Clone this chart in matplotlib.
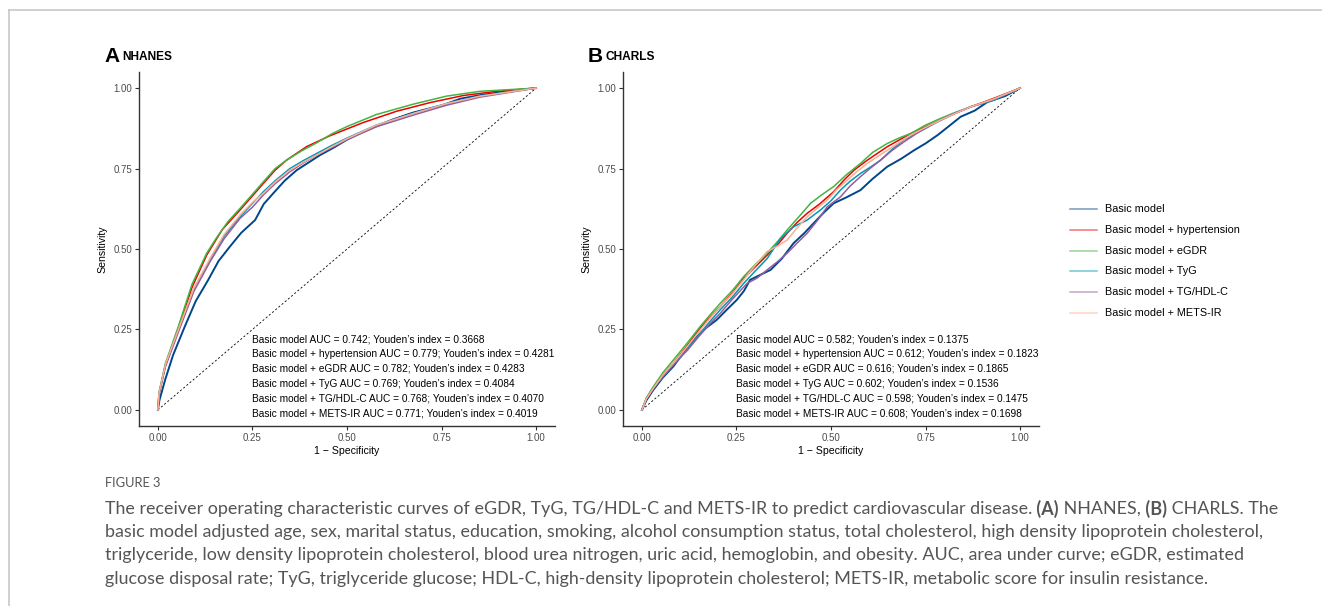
import matplotlib
matplotlib.use("Agg")
import matplotlib.pyplot as plt
from matplotlib.lines import Line2D
from matplotlib.transforms import IdentityTransform

# ---------------- data ----------------
models = ["Basic model", "Basic model + hypertension", "Basic model + eGDR",
          "Basic model + TyG", "Basic model + TG/HDL-C", "Basic model + METS-IR"]
colors = ["#00468B", "#ED0000", "#42B540", "#0099B4", "#925E9F", "#FDAF91"]

# Panel A (NHANES) ROC curves: 1 - specificity (x) and sensitivity (y)
nh_basic_x = [0, 0.004, 0.019, 0.040, 0.071, 0.100, 0.133, 0.160, 0.190, 0.220, 0.257, 0.280, 0.305, 0.335, 0.367, 0.400, 0.429, 0.465, 0.499, 0.535, 0.570, 0.620, 0.675, 0.755, 0.800, 0.852, 0.920, 1.0]
nh_basic_y = [0, 0.030, 0.093, 0.170, 0.259, 0.338, 0.404, 0.462, 0.507, 0.550, 0.590, 0.640, 0.673, 0.712, 0.745, 0.770, 0.792, 0.815, 0.839, 0.860, 0.878, 0.902, 0.924, 0.948, 0.967, 0.978, 0.990, 1.0]
nh_htn_x = [0, 0.003, 0.020, 0.054, 0.090, 0.129, 0.170, 0.217, 0.250, 0.279, 0.310, 0.340, 0.393, 0.455, 0.500, 0.543, 0.631, 0.720, 0.808, 0.896, 1.0]
nh_htn_y = [0, 0.050, 0.140, 0.254, 0.380, 0.481, 0.560, 0.621, 0.665, 0.704, 0.745, 0.776, 0.818, 0.852, 0.873, 0.893, 0.928, 0.955, 0.977, 0.990, 1.0]
nh_egdr_x = [0, 0.003, 0.020, 0.054, 0.090, 0.129, 0.155, 0.185, 0.217, 0.250, 0.279, 0.310, 0.340, 0.380, 0.420, 0.460, 0.499, 0.578, 0.675, 0.763, 0.852, 1.0]
nh_egdr_y = [0, 0.055, 0.145, 0.259, 0.390, 0.487, 0.535, 0.585, 0.626, 0.670, 0.709, 0.750, 0.776, 0.805, 0.830, 0.858, 0.880, 0.918, 0.950, 0.975, 0.990, 1.0]
nh_tyg_x = [0, 0.003, 0.020, 0.058, 0.095, 0.138, 0.175, 0.217, 0.250, 0.279, 0.310, 0.349, 0.385, 0.420, 0.460, 0.499, 0.578, 0.675, 0.764, 0.852, 1.0]
nh_tyg_y = [0, 0.050, 0.140, 0.259, 0.375, 0.466, 0.540, 0.600, 0.642, 0.678, 0.712, 0.750, 0.775, 0.797, 0.822, 0.844, 0.885, 0.921, 0.952, 0.975, 1.0]
nh_tghdl_x = [0, 0.003, 0.020, 0.058, 0.095, 0.138, 0.175, 0.217, 0.250, 0.279, 0.310, 0.349, 0.385, 0.420, 0.460, 0.499, 0.578, 0.675, 0.764, 0.852, 1.0]
nh_tghdl_y = [0, 0.050, 0.135, 0.254, 0.368, 0.461, 0.532, 0.595, 0.630, 0.668, 0.703, 0.740, 0.768, 0.792, 0.815, 0.839, 0.880, 0.916, 0.947, 0.972, 1.0]
nh_mets_x = [0, 0.003, 0.020, 0.058, 0.095, 0.138, 0.175, 0.217, 0.250, 0.279, 0.310, 0.349, 0.385, 0.420, 0.460, 0.499, 0.578, 0.675, 0.764, 0.852, 1.0]
nh_mets_y = [0, 0.052, 0.142, 0.262, 0.378, 0.471, 0.545, 0.605, 0.645, 0.673, 0.708, 0.745, 0.770, 0.792, 0.818, 0.842, 0.885, 0.921, 0.952, 0.975, 1.0]

# Panel B (CHARLS) ROC curves
ch_basic_x = [0, 0.012, 0.030, 0.055, 0.083, 0.115, 0.145, 0.170, 0.198, 0.225, 0.251, 0.270, 0.286, 0.310, 0.340, 0.370, 0.401, 0.430, 0.454, 0.480, 0.507, 0.540, 0.578, 0.610, 0.649, 0.685, 0.720, 0.750, 0.782, 0.810, 0.843, 0.880, 0.914, 0.960, 1.0]
ch_basic_y = [0, 0.030, 0.062, 0.100, 0.135, 0.185, 0.228, 0.255, 0.280, 0.312, 0.342, 0.370, 0.404, 0.418, 0.435, 0.470, 0.518, 0.550, 0.580, 0.612, 0.642, 0.660, 0.683, 0.718, 0.756, 0.780, 0.807, 0.828, 0.854, 0.880, 0.911, 0.930, 0.957, 0.975, 1.0]
ch_htn_x = [0, 0.012, 0.030, 0.055, 0.083, 0.120, 0.154, 0.180, 0.207, 0.240, 0.269, 0.300, 0.331, 0.360, 0.384, 0.410, 0.437, 0.470, 0.507, 0.535, 0.561, 0.596, 0.649, 0.711, 0.750, 0.790, 0.830, 0.870, 0.930, 1.0]
ch_htn_y = [0, 0.035, 0.067, 0.108, 0.145, 0.200, 0.254, 0.288, 0.321, 0.365, 0.409, 0.445, 0.481, 0.515, 0.549, 0.582, 0.611, 0.640, 0.678, 0.715, 0.745, 0.776, 0.818, 0.859, 0.880, 0.901, 0.922, 0.942, 0.968, 1.0]
ch_egdr_x = [0, 0.012, 0.030, 0.055, 0.083, 0.120, 0.154, 0.180, 0.207, 0.240, 0.269, 0.300, 0.331, 0.360, 0.384, 0.415, 0.446, 0.475, 0.507, 0.540, 0.578, 0.610, 0.649, 0.680, 0.711, 0.750, 0.790, 0.830, 0.870, 0.930, 1.0]
ch_egdr_y = [0, 0.038, 0.072, 0.115, 0.155, 0.208, 0.259, 0.295, 0.331, 0.372, 0.414, 0.452, 0.487, 0.525, 0.559, 0.600, 0.642, 0.668, 0.694, 0.730, 0.766, 0.800, 0.828, 0.845, 0.859, 0.885, 0.906, 0.925, 0.942, 0.965, 1.0]
ch_tyg_x = [0, 0.012, 0.030, 0.055, 0.083, 0.120, 0.154, 0.180, 0.207, 0.240, 0.269, 0.300, 0.331, 0.365, 0.401, 0.437, 0.472, 0.500, 0.525, 0.550, 0.578, 0.605, 0.631, 0.660, 0.693, 0.730, 0.773, 0.820, 0.870, 0.930, 1.0]
ch_tyg_y = [0, 0.035, 0.067, 0.103, 0.140, 0.190, 0.238, 0.275, 0.311, 0.352, 0.393, 0.432, 0.470, 0.530, 0.569, 0.590, 0.621, 0.650, 0.683, 0.710, 0.735, 0.755, 0.776, 0.808, 0.839, 0.862, 0.890, 0.918, 0.942, 0.962, 1.0]
ch_tghdl_x = [0, 0.012, 0.030, 0.055, 0.083, 0.120, 0.154, 0.180, 0.207, 0.240, 0.278, 0.305, 0.331, 0.360, 0.384, 0.410, 0.437, 0.465, 0.490, 0.525, 0.550, 0.578, 0.605, 0.631, 0.660, 0.693, 0.730, 0.773, 0.820, 0.870, 0.930, 1.0]
ch_tghdl_y = [0, 0.035, 0.067, 0.103, 0.140, 0.185, 0.233, 0.268, 0.300, 0.345, 0.393, 0.410, 0.435, 0.462, 0.487, 0.518, 0.549, 0.590, 0.631, 0.662, 0.695, 0.725, 0.752, 0.776, 0.805, 0.833, 0.862, 0.890, 0.918, 0.942, 0.965, 1.0]
ch_mets_x = [0, 0.012, 0.030, 0.055, 0.083, 0.120, 0.154, 0.180, 0.207, 0.240, 0.269, 0.300, 0.331, 0.360, 0.384, 0.410, 0.437, 0.465, 0.490, 0.515, 0.543, 0.570, 0.596, 0.649, 0.711, 0.750, 0.790, 0.830, 0.870, 0.930, 1.0]
ch_mets_y = [0, 0.035, 0.067, 0.108, 0.145, 0.197, 0.248, 0.285, 0.321, 0.362, 0.404, 0.450, 0.492, 0.510, 0.528, 0.565, 0.600, 0.628, 0.652, 0.685, 0.714, 0.742, 0.766, 0.807, 0.854, 0.878, 0.901, 0.922, 0.942, 0.966, 1.0]

nh_auc = ["0.742", "0.779", "0.782", "0.769", "0.768", "0.771"]
nh_youden = ["0.3668", "0.4281", "0.4283", "0.4084", "0.4070", "0.4019"]
ch_auc = ["0.582", "0.612", "0.616", "0.602", "0.598", "0.608"]
ch_youden = ["0.1375", "0.1823", "0.1865", "0.1536", "0.1475", "0.1698"]

ticks = [0.00, 0.25, 0.50, 0.75, 1.00]
tick_labels = ["0.00", "0.25", "0.50", "0.75", "1.00"]

caption_title = "FIGURE 3"
caption_lines = [
    [("The receiver operating characteristic curves of eGDR, TyG, TG/HDL-C and METS-IR to predict cardiovascular disease.", False),
     (" (A)", True), (" NHANES,", False), (" (B)", True), (" CHARLS. The", False)],
    [("basic model adjusted age, sex, marital status, education, smoking, alcohol consumption status, total cholesterol, high density lipoprotein cholesterol,", False)],
    [("triglyceride, low density lipoprotein cholesterol, blood urea nitrogen, uric acid, hemoglobin, and obesity. AUC, area under curve; eGDR, estimated", False)],
    [("glucose disposal rate; TyG, triglyceride glucose; HDL-C, high-density lipoprotein cholesterol; METS-IR, metabolic score for insulin resistance.", False)],
]

# ---------------- figure ----------------
W, H = 1322, 606
fig = plt.figure(figsize=(W / 100, H / 100), dpi=100)
fig.patch.set_facecolor("white")
PF = "Liberation Sans"

# light frame
fig.add_artist(Line2D([9 / W, 1.0], [1 - 10 / H, 1 - 10 / H], color="#c8c8c8", lw=1.2))
fig.add_artist(Line2D([9 / W, 9 / W], [0, 1 - 10 / H], color="#c8c8c8", lw=1.2))


def make_panel(left_px, data, aucs, youdens, letter, name, letter_x):
    ax = fig.add_axes([left_px / W, 1 - 426 / H, 416 / W, 354 / H])
    ax.plot([0, 1], [0, 1], ls=(0, (2.5, 2.5)), color="black", lw=0.6, zorder=1)
    for i, ((xs, ys), c) in enumerate(zip(data, colors)):
        ax.plot(xs, ys, color=c, lw=1.4 if i == 0 else 1.1, zorder=2,
                solid_joinstyle="round")
    ax.set_xlim(-0.05, 1.05)
    ax.set_ylim(-0.05, 1.05)
    ax.set_xticks(ticks)
    ax.set_xticklabels(tick_labels)
    ax.set_yticks(ticks)
    ax.set_yticklabels(tick_labels)
    for s in ["top", "right"]:
        ax.spines[s].set_visible(False)
    for s in ["left", "bottom"]:
        ax.spines[s].set_color("#333333")
        ax.spines[s].set_linewidth(1.0)
    ax.tick_params(length=3, width=0.8, color="#333333", labelcolor="#4D4D4D",
                   labelsize=7, pad=2)
    for lab in ax.get_xticklabels() + ax.get_yticklabels():
        lab.set_family(PF)
    ax.set_xlabel("1 \u2212 Specificity", fontsize=7.6, family=PF, labelpad=2)
    ax.set_ylabel("Sensitivity", fontsize=7.6, family=PF, labelpad=4)
    ypos = [0.220, 0.174, 0.128, 0.081, 0.035, -0.011]
    for m, a, yd, yp in zip(models, aucs, youdens, ypos):
        ax.text(0.25, yp, f"{m} AUC = {a}; Youden\u2019s index = {yd}",
                fontsize=7.3, family=PF, color="black", va="center", ha="left")
    fig.text(letter_x / W, 1 - 56 / H, letter, fontsize=15, fontweight="bold",
             family=PF, va="center", ha="left")
    fig.text((letter_x + 18) / W, 1 - 57 / H, name, fontsize=8.6, fontweight="bold",
             family=PF, va="center", ha="left")
    return ax


nh_data = [(nh_basic_x, nh_basic_y), (nh_htn_x, nh_htn_y), (nh_egdr_x, nh_egdr_y),
           (nh_tyg_x, nh_tyg_y), (nh_tghdl_x, nh_tghdl_y), (nh_mets_x, nh_mets_y)]
ch_data = [(ch_basic_x, ch_basic_y), (ch_htn_x, ch_htn_y), (ch_egdr_x, ch_egdr_y),
           (ch_tyg_x, ch_tyg_y), (ch_tghdl_x, ch_tghdl_y), (ch_mets_x, ch_mets_y)]

make_panel(139, nh_data, nh_auc, nh_youden, "A", "NHANES", 104)
make_panel(623, ch_data, ch_auc, ch_youden, "B", "CHARLS", 588)

# legend (drawn manually)
for i, (m, c) in enumerate(zip(models, colors)):
    yy = 1 - (209 + i * 20.8) / H
    fig.add_artist(Line2D([1070 / W, 1097 / W], [yy, yy], color=c, lw=1.1, alpha=0.55))
    fig.text(1105 / W, yy, m, fontsize=7.8, family=PF, va="center", ha="left")

# caption
CF = ["Lato", "DejaVu Sans"]
cap_color = "#555555"
fig.text(105 / W, 1 - 483 / H, caption_title, fontsize=9.3, family=CF,
         color=cap_color, va="center", ha="left")

renderer = fig.canvas.get_renderer()


def line_width(segs, fs):
    total = 0.0
    for s, bold in segs:
        p = fig.text(0, 0, s, fontsize=fs, family=CF,
                     fontweight="bold" if bold else "normal")
        total += p.get_window_extent(renderer).width
        p.remove()
    return total


# auto-fit font size so the first two lines span the measured widths on average
w1 = line_width(caption_lines[0], 12)
w2 = line_width(caption_lines[1], 12)
cap_fs = 12 * (1162.0 + 1163.0) / (w1 + w2)

for li, segs in enumerate(caption_lines):
    ypx = H - (509 + li * 23.2)
    xpx = 105
    for s, bold in segs:
        t = fig.text(xpx, ypx, s, fontsize=cap_fs, family=CF, color=cap_color,
                     fontweight="bold" if bold else "normal", va="center", ha="left",
                     transform=IdentityTransform())
        xpx = t.get_window_extent(renderer).x1

fig.savefig("out.png", dpi=100, facecolor="white")
